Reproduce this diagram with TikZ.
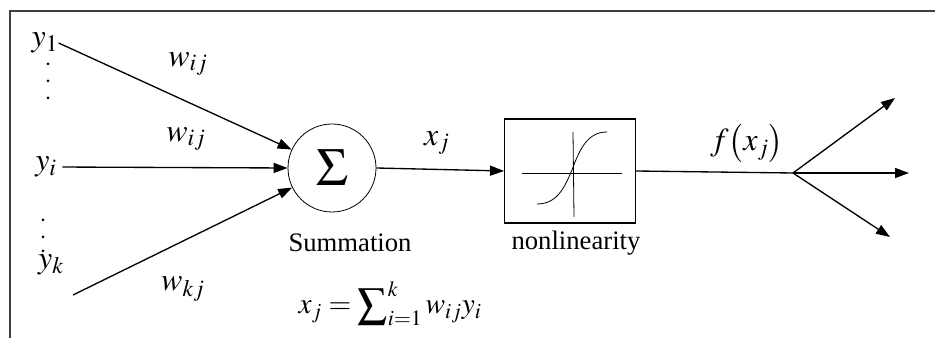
\documentclass[tikz,border=0pt]{standalone}
\usepackage{mathptmx}
\usepackage[no-math]{fontspec}
\setmainfont{Liberation Serif}
\usetikzlibrary{arrows.meta}
\usetikzlibrary{math}

\begin{document}
\begin{tikzpicture}[x=0.75pt,y=-0.75pt,
  font=\fontsize{20}{24}\selectfont,
  wire/.style={line width=1pt},
  link/.style={wire,-{Triangle[length=10.5pt,width=7.5pt]}},
  lbl/.style={inner sep=0pt},
  mlbl/.style={lbl,font=\fontsize{24}{28}\selectfont}]
\tikzmath{
\r=1.5;
}
\useasboundingbox (0,0) rectangle (935,338);
\draw[line width=1.2pt,black!75] (10,338) -- (10,11) -- (935,11);

% inputs
\node[mlbl] (y1) at (45,43) {$y_1$};
\node[mlbl] (yi) at (46,167) {$y_i$};
\node[mlbl] (yk) at (51,265) {$y_k$};
\coordinate (ykin) at (73,295);
\foreach \y in {64,81,98} \fill (48,\y) circle (\r);
\foreach \y in {220,237,251} \fill (43,\y) circle (\r);

% summation and nonlinearity
\node[circle,draw,line width=0.6pt,minimum size=66pt,inner sep=0pt] (sum) at (332,168)
  {\fontsize{40}{40}\selectfont$\Sigma$};
\node[draw,line width=0.9pt,minimum width=98pt,minimum height=78pt] (nonlin) at (570,171) {};
\draw[line width=0.6pt] (522,173) -- (622,173);
\draw[line width=0.6pt] (573,132) -- (574,217);
\draw[line width=0.6pt] (537,204) .. controls (558,204) and (565,186) .. (572,170)
  .. controls (580,148) and (588,132) .. (607,132);
\node[lbl] (sumtxt) at (350,243) {Summation};
\node[lbl] (nltxt) at (576,243) {nonlinearity};
\node[lbl,font=\fontsize{22}{26}\selectfont] (formula) at (390,304)
  {$x_j=\displaystyle\sum\nolimits_{i=1}^{k}w_{ij}y_i$};

\draw[link] (y1.east) -- (sum);
\draw[link,shorten <=4pt] (yi.east) -- (sum.west);
\draw[link] (ykin) -- (sum);
\node[mlbl] (wa) at (188,64) {$w_{ij}$};
\node[mlbl] (wb) at (186,139) {$w_{ij}$};
\node[mlbl] (wc) at (183,289) {$w_{kj}$};

\draw[link] (sum.east) -- (nonlin.west);
\node[mlbl] (xj) at (437,143) {$x_j$};

% outputs
\coordinate (branch) at (793,173);
\coordinate (outa) at (895,98);
\coordinate (outb) at (909,173);
\coordinate (outc) at (890,237);
\draw[wire] (nonlin.east) -- (branch);
\node[mlbl] (fx) at (747,143) {$f\bigl(x_j\bigr)$};
\foreach \o in {outa,outb,outc} \draw[link] (branch) -- (\o);
\end{tikzpicture}
\end{document}
